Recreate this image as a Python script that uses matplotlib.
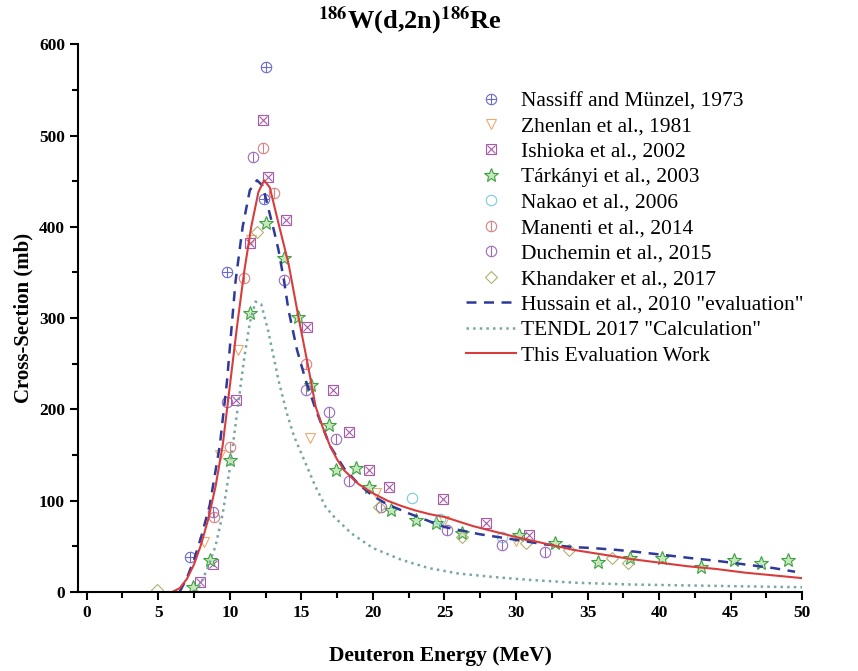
import numpy as np
import matplotlib.pyplot as plt
from matplotlib.ticker import MultipleLocator

plt.rcParams['font.family'] = ['Liberation Serif', 'DejaVu Serif']
plt.rcParams['mathtext.fontset'] = 'stix'

# experimental data (energy in MeV, cross-section in mb)
nassiff_e = [7.2, 9.8, 12.4, 12.5]
nassiff_s = [38, 350, 431, 575]
zhenlan_e = [8.2, 9.3, 10.6, 11.5, 15.6, 20.2, 25.0, 30.0]
zhenlan_s = [55, 150, 265, 385, 169, 108, 78, 56]
ishioka_e = [7.9, 8.8, 10.4, 11.4, 12.3, 12.7, 13.9, 15.4, 17.2, 18.3, 19.7, 21.1, 24.9, 27.9, 30.9]
ishioka_s = [11, 30, 210, 382, 517, 455, 407, 290, 221, 175, 134, 115, 102, 75, 62]
tarkanyi_e = [7.4, 8.6, 10.0, 11.4, 12.5, 13.8, 14.8, 15.7, 16.9, 17.4, 18.8, 19.7, 21.3, 23.0,
              24.4, 26.2, 30.2, 32.7, 35.7, 38.0, 40.2, 42.9, 45.2, 47.1, 49.0]
tarkanyi_s = [5, 35, 145, 306, 404, 366, 301, 227, 183, 134, 136, 115, 90, 79,
              75, 65, 62, 54, 33, 37, 37, 27, 35, 32, 35]
nakao_e = [22.7, 24.7, 29.0]
nakao_s = [103, 80, 60]
manenti_e = [8.9, 10.0, 11.0, 12.3, 13.1, 15.3]
manenti_s = [82, 159, 344, 486, 437, 250]
duchemin_e = [8.8, 9.8, 11.6, 13.8, 15.3, 16.9, 17.4, 18.3, 20.6, 25.2, 29.0, 32.0]
duchemin_s = [87, 208, 476, 342, 221, 197, 167, 121, 93, 68, 51, 44]
khandaker_e = [4.9, 11.9, 20.4, 26.2, 30.7, 33.7, 36.7, 37.8]
khandaker_s = [2, 394, 93, 60, 54, 46, 37, 32]

# evaluated / calculated curves
hussain_e = [6.5, 7.0, 7.5, 8.0, 8.6, 9.3, 9.8, 10.4, 10.9, 11.4, 11.9, 12.3, 12.7, 13.1, 13.4,
             13.8, 14.1, 14.7, 15.3, 16.0, 17.0, 18.0, 19.0, 20.0, 21.0, 22.5, 25.0, 27.5,
             30.0, 32.0, 34.0, 35.3, 37.0, 38.3, 40.0, 42.2, 44.0, 46.0, 48.0, 49.5]
hussain_s = [0, 15, 35, 60, 95, 160, 230, 340, 400, 440, 451, 445, 420, 395, 375,
             340, 309, 265, 232, 200, 160, 135, 118, 105, 96, 86, 71, 63,
             57, 52, 49, 48, 46, 44, 41, 37, 34, 30, 26, 22]
tendl_e = [7.5, 8.0, 8.5, 9.0, 9.5, 10.0, 10.5, 11.0, 11.4, 11.8, 12.2, 12.7, 13.4, 14.0, 14.5,
           15.1, 16.0, 16.7, 17.3, 18.5, 20.0, 22.0, 23.9, 26.0, 28.6, 31.0, 34.1, 38.0,
           42.0, 46.0, 50.0]
tendl_s = [0, 10, 28, 50, 85, 135, 195, 255, 295, 318, 315, 285, 232, 195, 170,
           148, 115, 93, 82, 64, 48, 35, 26, 20, 16, 13, 10, 8,
           7, 6, 5]
eval_e = [6.0, 6.5, 7.0, 7.5, 8.0, 8.5, 9.0, 9.5, 10.0, 10.5, 11.0, 11.5, 12.0, 12.4, 12.8,
          13.0, 13.4, 14.1, 14.8, 15.5, 16.0, 16.5, 17.0, 17.5, 18.0, 19.0, 20.0, 21.0, 22.0,
          23.0, 24.0, 25.0, 26.0, 27.0, 28.0, 29.0, 30.0, 32.0, 34.0, 36.0, 38.0, 40.0,
          42.0, 44.0, 46.0, 48.0, 50.0]
eval_s = [0, 4, 14, 30, 52, 80, 115, 160, 225, 290, 350, 400, 438, 451, 443,
          430, 404, 360, 301, 245, 203, 180, 160, 145, 133, 118, 108, 100, 94,
          89, 85, 82, 77, 72, 68, 64, 60, 53, 46, 41, 36, 32,
          28, 25, 21, 18, 15]

fig = plt.figure(figsize=(8.58, 6.71), dpi=100)
ax = fig.add_axes([0.091, 0.118, 0.844, 0.816])

ms = 7.5
lw = 0.8


def ring(e, s, color, inner, label):
    h1, = ax.plot(e, s, 'o', ms=ms, mfc='none', mec=color, mew=lw, linestyle='none')
    h2, = ax.plot(e, s, inner, ms=ms - 1, color=color, mew=lw, linestyle='none')
    return (h1, h2), label


handles = []
handles.append(ring(nassiff_e, nassiff_s, '#6a6ac8', '+', 'Nassiff and Münzel, 1973'))
h, = ax.plot(zhenlan_e, zhenlan_s, 'v', ms=ms, mfc='none', mec='#f0aa70', mew=lw, linestyle='none')
handles.append((h, 'Zhenlan et al., 1981'))
h1, = ax.plot(ishioka_e, ishioka_s, 's', ms=ms, mfc='none', mec='#a85aa8', mew=lw, linestyle='none')
h2, = ax.plot(ishioka_e, ishioka_s, 'x', ms=ms - 2, color='#a85aa8', mew=lw, linestyle='none')
handles.append(((h1, h2), 'Ishioka et al., 2002'))
h, = ax.plot(tarkanyi_e, tarkanyi_s, '*', ms=ms + 3, mfc='#c4e8bc', mec='#3ea040', mew=lw, linestyle='none')
handles.append((h, 'Tárkányi et al., 2003'))
h, = ax.plot(nakao_e, nakao_s, 'o', ms=ms, mfc='none', mec='#78cce0', mew=lw, linestyle='none')
handles.append((h, 'Nakao et al., 2006'))
handles.append(ring(manenti_e, manenti_s, '#d88080', '|', 'Manenti et al., 2014'))
handles.append(ring(duchemin_e, duchemin_s, '#9a6ab8', '|', 'Duchemin et al., 2015'))
h, = ax.plot(khandaker_e, khandaker_s, 'D', ms=ms - 1.5, mfc='none', mec='#b0b070', mew=lw, linestyle='none')
handles.append((h, 'Khandaker et al., 2017'))

h, = ax.plot(hussain_e, hussain_s, '--', color='#2e3a9a', lw=1.8, dashes=(4, 3))
handles.append((h, 'Hussain et al., 2010 "evaluation"'))
h, = ax.plot(tendl_e, tendl_s, ':', color='#7aa6a6', lw=1.8)
handles.append((h, 'TENDL 2017 "Calculation"'))
h, = ax.plot(eval_e, eval_s, '-', color='#d83c3c', lw=1.5)
handles.append((h, 'This Evaluation Work'))

ax.set_xlim(-0.6, 50)
ax.set_ylim(0, 600)
ax.xaxis.set_major_locator(MultipleLocator(5))
ax.xaxis.set_minor_locator(MultipleLocator(2.5))
ax.yaxis.set_major_locator(MultipleLocator(100))
ax.yaxis.set_minor_locator(MultipleLocator(50))
for side in ['top', 'right']:
    ax.spines[side].set_visible(False)
for side in ['left', 'bottom']:
    ax.spines[side].set_linewidth(1.5)
ax.tick_params(which='major', direction='out', length=6, width=1.5, labelsize=12.5)
ax.tick_params(which='minor', direction='out', length=4, width=1.5)
for lab in ax.get_xticklabels() + ax.get_yticklabels():
    lab.set_fontweight('bold')

ax.set_xlabel('Deuteron Energy (MeV)', fontsize=15.5, fontweight='bold', labelpad=18)
ax.set_ylabel('Cross-Section (mb)', fontsize=15, fontweight='bold', labelpad=4)
fig.text(410 / 858, 1 - 20 / 671, r'$^{\mathbf{186}}$W(d,2n)$^{\mathbf{186}}$Re',
         ha='center', va='center', fontsize=19, fontweight='bold')

ax.legend([x[0] for x in handles], [x[1] for x in handles],
          loc='upper left', bbox_to_anchor=(466 / 858, 1 - 91 / 671),
          bbox_transform=fig.transFigure, frameon=False, fontsize=15.5,
          handlelength=2.3, handletextpad=0.25, labelspacing=0.25, borderpad=0,
          borderaxespad=0)

fig.savefig('out.png', dpi=100)
